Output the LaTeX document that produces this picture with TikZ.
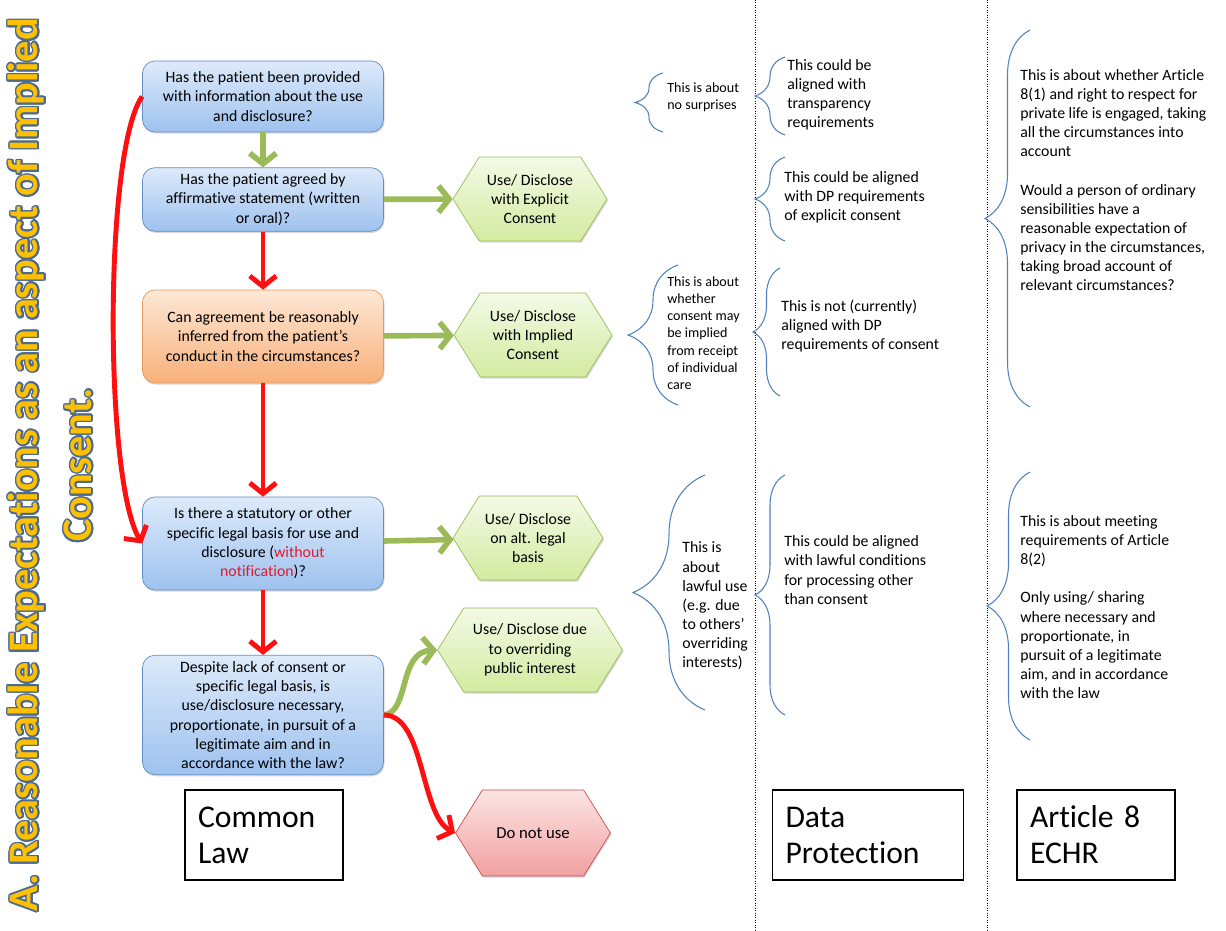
\documentclass[tikz,border=0pt]{standalone}
\usepackage{fontspec}
\setmainfont{Carlito}[Ligatures=NoCommon]
\usepackage{contour}
\contourlength{0.9pt}
\usetikzlibrary{positioning,shapes.symbols,shadows,arrows.meta,decorations.pathreplacing}

\definecolor{qtop}{HTML}{DDEAFA}
\definecolor{qbot}{HTML}{9EC2EF}
\definecolor{qline}{HTML}{5F8DC6}
\definecolor{otop}{HTML}{FDE8D6}
\definecolor{obot}{HTML}{F8B07A}
\definecolor{oline}{HTML}{E59A5A}
\definecolor{htop}{HTML}{F3FAE6}
\definecolor{hbot}{HTML}{D3EBA0}
\definecolor{hline}{HTML}{9BBB59}
\definecolor{rtop}{HTML}{FCE4E4}
\definecolor{rbot}{HTML}{F2A0A0}
\definecolor{rline}{HTML}{C0504D}
\definecolor{flechaverde}{HTML}{9BBB59}
\definecolor{flecharoja}{HTML}{FF0F0F}
\definecolor{llaveazul}{HTML}{4F81BD}
\definecolor{textorojo}{HTML}{E31A2C}
\definecolor{titulooro}{HTML}{FFC000}
\definecolor{tituloazul}{HTML}{4A6A94}

\begin{document}
\begin{tikzpicture}[x=0.02cm,y=-0.02cm,
  pregunta/.style={draw=qline,rounded corners=7pt,top color=qtop,bottom color=qbot,
    minimum width=4.82cm,align=center,font=\fontsize{9}{11}\selectfont,
    drop shadow={opacity=.3,shadow xshift=.6pt,shadow yshift=-.9pt}},
  dudosa/.style={pregunta,draw=oline,top color=otop,bottom color=obot},
  salida/.style={shape=signal,signal to=west and east,signal pointer angle=116,
    draw=hline,top color=htop,bottom color=hbot,align=center,inner sep=1pt,
    minimum height=1.68cm,font=\fontsize{9}{11}\selectfont,
    drop shadow={opacity=.3,shadow xshift=.6pt,shadow yshift=-.9pt}},
  alto/.style={salida,draw=rline,top color=rtop,bottom color=rbot,font=\fontsize{9.5}{11}\selectfont},
  flechasi/.style={draw=flechaverde,line width=3.2pt,-{Straight Barb[length=6pt,width=15pt]}},
  flechano/.style={draw=flecharoja,line width=2.8pt,-{Straight Barb[length=6pt,width=15pt]}},
  llave/.style={draw=llaveazul,semithick,decorate,decoration={brace,amplitude=#1}},
  llave/.default=0.6cm,
  nota/.style={anchor=west,align=left,inner sep=0pt,font=\fontsize{9}{10.9}\selectfont},
  notita/.style={nota,font=\fontsize{8}{9.8}\selectfont},
  marco/.style={draw,line width=0.8pt,align=left,font=\fontsize{18}{20.5}\selectfont,
    minimum height=1.8cm,inner xsep=0.26cm}
  ]

  \useasboundingbox (0,0) rectangle (1226,930);

  % title
  \node[rotate=90,align=center,text=titulooro,font=\bfseries\fontsize{24}{30.6}\selectfont]
    (titulo) at (51,465) {\contour{tituloazul}{A. Reasonable Expectations as an aspect of Implied}\\
    \contour{tituloazul}{Consent.}};

  % columns
  \draw[densely dotted] (755,0) -- (755,930);
  \draw[densely dotted] (987,0) -- (987,930);

  % questions
  \node[pregunta,minimum height=1.42cm] (q1) at (263,96.5)
    {Has the patient been provided\\with information about the use\\and disclosure?};
  \node[pregunta,minimum height=1.26cm] (q2) at (263,199.5)
    {Has the patient agreed by\\affirmative statement (written\\or oral)?};
  \node[dudosa,minimum height=1.86cm] (q3) at (263,336.5)
    {Can agreement be reasonably\\inferred from the patient’s\\conduct in the circumstances?};
  \node[pregunta,minimum height=1.86cm] (q4) at (263,543.5)
    {Is there a statutory or other\\specific legal basis for use and\\disclosure (\textcolor{textorojo}{without}\\\textcolor{textorojo}{notification})?};
  \node[pregunta,minimum height=2.36cm] (q5) at (263,715)
    {Despite lack of consent or\\specific legal basis, is\\use/disclosure necessary,\\proportionate, in pursuit of a\\legitimate aim and in\\accordance with the law?};

  % outcomes
  \node[salida,minimum width=3.08cm] (h1) at (530,199) {Use/ Disclose\\with Explicit\\Consent};
  \node[salida,minimum width=3.16cm] (h2) at (533,335) {Use/ Disclose\\with Implied\\Consent};
  \node[salida,minimum width=3.0cm] (h3) at (528,538) {Use/ Disclose\\on alt. legal\\basis};
  \node[salida,minimum width=3.7cm] (h4) at (530,650) {Use/ Disclose due\\to overriding\\public interest};
  \node[alto,minimum width=3.1cm,minimum height=1.72cm] (h5) at (533,833) {Do not use};

  % arrows
  \draw[flechasi] (q1) -- (q2);
  \draw[flechasi] (q2) -- (h1);
  \draw[flechasi] (q3) -- (h2);
  \draw[flechasi] (q4) -- (h3);
  \draw[flechasi] (q5.east) .. controls (410,712) and (398,652) .. (h4.west);
  \draw[flechano] (q2) -- (q3);
  \draw[flechano] (q3) -- (q4);
  \draw[flechano] (q4) -- (q5);
  \draw[flechano] (q5.east) .. controls (425,715) and (420,815) .. (h5.west);
  \draw[flechano] (q1.west) .. controls (104,150) and (104,480) .. (q4.west);

  % common law notes
  \draw[llave=0.56cm] (663,132) -- (663,73);
  \node[notita] (n1) at (667,97) {This is about\\no surprises};
  \draw[llave=1.0cm] (678,405) -- (678,265);
  \node[notita] (n2) at (667,333) {This is about\\whether\\consent may\\be implied\\from receipt\\of individual\\care};
  \draw[llave=1.44cm] (705,710) -- (705,475);
  \node[nota] (n3) at (682,606) {This is\\about\\lawful use\\(e.g. due\\to others’\\overriding\\interests)};

  % data protection notes
  \draw[llave] (785,135) -- (785,57);
  \node[nota] (d1) at (787,95) {This could be\\aligned with\\transparency\\requirements};
  \draw[llave] (785,241) -- (785,157);
  \node[nota] (d2) at (784,197) {This could be aligned\\with DP requirements\\of explicit consent};
  \draw[llave=0.54cm] (780,396) -- (780,268);
  \node[nota] (d3) at (781,326) {This is not (currently)\\aligned with DP\\requirements of consent};
  \draw[llave] (785,715) -- (785,475);
  \node[nota] (d4) at (784,570) {This could be aligned\\with lawful conditions\\for processing other\\than consent};

  % article 8 notes
  \draw[llave=0.9cm] (1030,407) -- (1030,30);
  \node[nota] (e1) at (1020,180) {This is about whether Article\\8(1) and right to respect for\\private life is engaged, taking\\all the circumstances into\\account\\[\baselineskip]Would a person of ordinary\\sensibilities have a\\reasonable expectation of\\privacy in the circumstances,\\taking broad account of\\relevant circumstances?};
  \draw[llave=0.86cm] (1030,740) -- (1030,472);
  \node[nota] (e2) at (1020,607) {This is about meeting\\requirements of Article\\8(2)\\[\baselineskip]Only using/ sharing\\where necessary and\\proportionate, in\\pursuit of a legitimate\\aim, and in accordance\\with the law};

  % column labels
  \node[marco,text width=2.64cm] (cl) at (264,835) {Common\\Law};
  \node[marco,text width=3.3cm] (dp) at (868,835) {Data\\Protection};
  \node[marco,text width=2.64cm] (ec) at (1096,835) {Article 8\\ECHR};

\end{tikzpicture}
\end{document}
